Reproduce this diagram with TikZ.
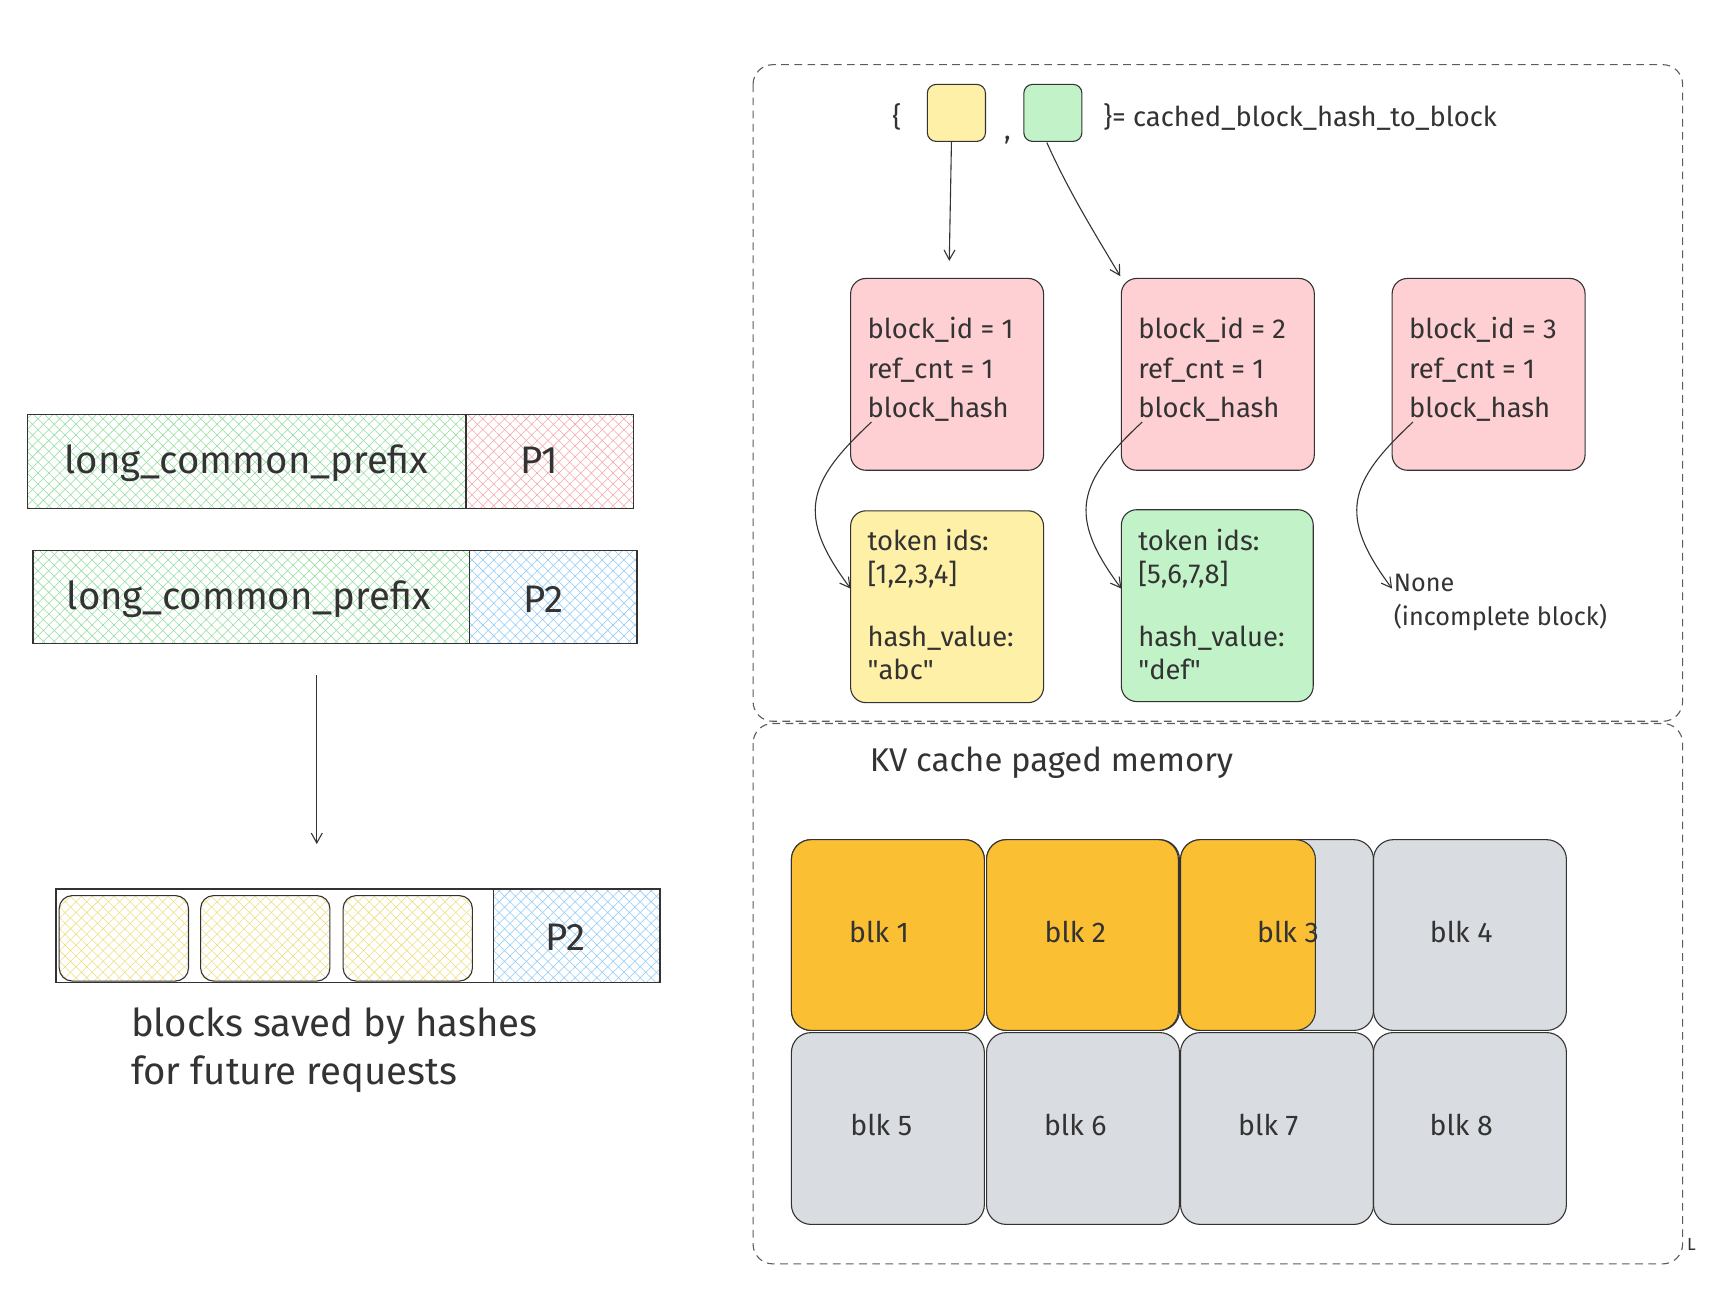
\documentclass[tikz,border=0pt]{standalone}
\usepackage{fontspec}
\setmainfont{Fira Sans}
\usetikzlibrary{patterns.meta,arrows.meta}
\definecolor{ln}{HTML}{333333}
\definecolor{hg}{HTML}{8fdc9a}
\definecolor{hp}{HTML}{f5a3a8}
\definecolor{hb}{HTML}{8cc8f5}
\definecolor{hy}{HTML}{f0dc7a}
\definecolor{pk}{HTML}{ffd0d3}
\definecolor{yl}{HTML}{fff0a8}
\definecolor{gr}{HTML}{c2f3c8}
\definecolor{og}{HTML}{fbbf33}
\definecolor{gy}{HTML}{d9dce0}
\begin{document}
\begin{tikzpicture}[x=1pt,y=-1pt,
  every node/.style={text=ln},
  hatch/.style={postaction={pattern={Lines[angle=45,distance=7pt,line width=0.5pt]},pattern color=#1},
                postaction={pattern={Lines[angle=-45,distance=7pt,line width=0.5pt]},pattern color=#1}},
  bar/.style={draw=ln,line width=1.2pt},
  big/.style={font=\fontsize{35}{35}\selectfont},
  mid/.style={font=\fontsize{25}{28}\selectfont},
  box/.style={draw=ln,line width=1pt,rounded corners=14pt},
  dbox/.style={draw=ln!80,line width=1pt,dash pattern=on 7pt off 5pt,rounded corners=18pt},
  arr/.style={draw=ln,line width=1pt,-{Straight Barb[length=9pt,width=10pt]}}]
\useasboundingbox (0,0) rectangle (1560,1179);
% left bars
\path[hatch=hg] (25,378) rectangle (425,464);
\path[hatch=hp] (425,378) rectangle (578,464);
\draw[bar] (25,378) rectangle (425,464) (425,378) rectangle (578,464);
\node[big] (t1) at (225,423) {long\_common\_prefix};
\node[big] (p1) at (492,420) {P1};
\path[hatch=hg] (30,502) rectangle (428,587);
\path[hatch=hb] (428,502) rectangle (581,587);
\draw[bar] (30,502) rectangle (428,587) (428,502) rectangle (581,587);
\node[big] (t2) at (227,547) {long\_common\_prefix};
\node[big] (p2) at (496,547) {P2};
\coordinate (a1) at (289,616); \coordinate (a2) at (289,770);
\draw[arr] (a1) -- (a2);
\draw[bar] (51,811) rectangle (450,896);
\foreach \x in {54,183,313}{
  \path[hatch=hy,rounded corners=12pt] (\x,817) rectangle (\x+118,895);
  \draw[box,rounded corners=12pt] (\x,817) rectangle (\x+118,895);}
\path[hatch=hb] (450,811) rectangle (602,896);
\draw[bar] (450,811) rectangle (602,896);
\node[big] (p3) at (516,855) {P2};
\node[big,anchor=west,align=left,font=\fontsize{35}{44}\selectfont] (cap) at (116,958) {blocks saved by hashes\\for future requests};
% right dashed
\draw[dbox] (687,59) rectangle (1535,658);
\draw[dbox] (687,660) rectangle (1535,1153);
\node[mid] (lb) at (818,107) {\{};
\draw[box,fill=yl,rounded corners=8pt] (846,77) rectangle (899,129);
\draw[box,fill=gr,rounded corners=8pt] (934,77) rectangle (987,129);
\node[mid] (cm) at (919,128) {,};
\node[mid,anchor=west] (rb) at (1003,107) {\}= cached\_block\_hash\_to\_block};
\coordinate (s1) at (868,129); \coordinate (e1) at (866,238);
\coordinate (s2) at (955,130); \coordinate (e2) at (1022,252);
\draw[arr] (s1) -- (e1);
\draw[arr] (s2) .. controls (975,175) and (1000,215) .. (e2);
\foreach \x/\n in {776/1,1023/2,1270/3}{
  \draw[box,fill=pk] (\x,254) rectangle (\x+176,429);
  \node[mid,anchor=west,align=left,font=\fontsize{25}{36}\selectfont] (b\n) at (\x+12,337) {block\_id = \n\\ref\_cnt = 1\\block\_hash};
  \draw[arr] (\x+19,385) .. controls (\x-40,440) and (\x-50,470) .. (\x,537);
}
\draw[box,fill=yl] (776,466) rectangle (952,641);
\draw[box,fill=gr] (1023,465) rectangle (1198,640);
\node[mid,anchor=north west,align=left,font=\fontsize{25}{30}\selectfont] (k1) at (788,479) {token ids:\\{}[1,2,3,4]\\[28pt]hash\_value:\\\textquotedbl abc\textquotedbl};
\node[mid,anchor=north west,align=left,font=\fontsize{25}{30}\selectfont] (k2) at (1035,479) {token ids:\\{}[5,6,7,8]\\[28pt]hash\_value:\\\textquotedbl def\textquotedbl};
\node[anchor=north west,align=left,font=\fontsize{23}{31}\selectfont] (nn) at (1268,520) {None\\(incomplete block)};
\node[mid,anchor=west,font=\fontsize{30}{30}\selectfont] (kv) at (790,696) {KV cache paged memory};
% grid
\foreach \x/\c in {722/0,900/1,1077/2,1253/3}{
  \draw[box,fill=gy,rounded corners=18pt] (\x,766) rectangle (\x+176,940);
  \draw[box,fill=gy,rounded corners=18pt] (\x,942) rectangle (\x+176,1117);}
\draw[box,fill=og,rounded corners=18pt] (722,766) rectangle (898,940);
\draw[box,fill=og,rounded corners=18pt] (900,766) rectangle (1075,940);
\draw[box,fill=og,rounded corners=18pt] (1077,766) rectangle (1200,940);
\foreach \x/\n/\y in {802/1/850,981/2/850,1175/3/850,1333/4/850,804/5/1026,981/6/1026,1157/7/1026,1333/8/1026}
  \node[mid,font=\fontsize{26}{26}\selectfont] (blk\n) at (\x,\y) {blk \n};
\node[font=\fontsize{16}{16}\selectfont] (mk) at (1543,1135) {L};
\end{tikzpicture}
\end{document}
